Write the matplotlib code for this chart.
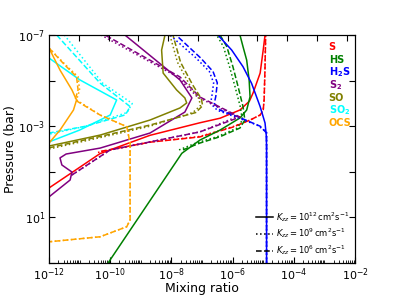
import numpy as np
import matplotlib
matplotlib.use("Agg")
import matplotlib.pyplot as plt
from matplotlib.lines import Line2D
from matplotlib.ticker import NullFormatter, NullLocator

# ---- data: log10(mixing ratio) and log10(pressure / bar) ----
# S (red)
S_12_lx = [-12.1, -10.33, -8.7, -7.07, -6.41, -5.76, -5.45, -5.33, -5.1, -5.0, -4.94]
S_12_lp = [-0.2, -1.8, -2.6, -3.15, -3.35, -3.71, -4.1, -4.46, -5.33, -6.34, -7.0]
S_9_lx = [-10.4, -8.7, -7.07, -5.99, -5.43, -5.1, -5.0, -4.97, -4.94, -4.92]
S_9_lp = [-1.85, -2.3, -2.55, -2.98, -3.27, -3.49, -3.71, -4.15, -5.6, -7.0]
S_6_lx = [-10.3, -8.7, -7.07, -5.99, -5.43, -5.1, -5.0, -4.97, -4.94, -4.92]
S_6_lp = [-1.9, -2.3, -2.53, -2.96, -3.27, -3.49, -3.71, -4.15, -5.6, -7.0]
# HS (green)
HS_12_lx = [-10.07, -7.66, -7.07, -6.41, -5.76, -5.54, -5.43, -5.46, -5.54, -5.66, -5.76]
HS_12_lp = [3.0, -1.81, -2.39, -2.83, -3.36, -3.71, -4.29, -5.03, -5.9, -6.49, -7.0]
HS_9_lx = [-7.75, -7.2, -6.5, -5.85, -5.68, -5.75, -5.92, -6.1, -6.3, -6.52]
HS_9_lp = [-1.96, -2.26, -2.54, -2.92, -3.27, -3.86, -4.73, -5.61, -6.49, -7.0]
HS_6_lx = [-7.62, -7.07, -6.41, -5.76, -5.6, -5.66, -5.82, -5.99, -6.19, -6.41]
HS_6_lp = [-1.96, -2.26, -2.54, -2.92, -3.27, -3.86, -4.73, -5.61, -6.49, -7.0]
# H2S (blue)
H2S_12_lx = [-4.89, -4.89, -4.9, -4.94, -5.10, -5.38, -5.66, -6.03, -6.48]
H2S_12_lp = [3.0, -2.1, -2.6, -3.14, -3.86, -4.88, -5.61, -6.34, -7.0]
H2S_9_lx = [-4.89, -4.89, -5.2, -5.9, -6.5, -6.72, -6.68, -6.62, -6.76, -7.2, -8.05]
H2S_9_lp = [3.0, -2.75, -3.05, -3.4, -3.7, -4.0, -4.3, -4.9, -5.4, -6.0, -7.0]
H2S_6_lx = [-4.89, -4.89, -5.1, -5.8, -6.4, -6.6, -6.55, -6.5, -6.64, -7.05, -7.85]
H2S_6_lp = [3.0, -2.7, -3.0, -3.4, -3.7, -4.0, -4.3, -4.9, -5.4, -6.0, -7.0]
# S2 (purple)
S2_12_lx = [-12.0, -11.31, -11.25, -11.58, -11.64, -11.44, -10.33, -8.7, -7.56, -7.33, -7.72, -9.52]
S2_12_lp = [0.1, -0.64, -0.99, -1.3, -1.61, -1.78, -2.04, -2.7, -3.62, -4.24, -5.03, -7.0]
S2_9_lx = [-11.25, -10.0, -7.07, -5.85, -7.15, -7.8, -10.3]
S2_9_lp = [-0.86, -1.96, -2.75, -3.42, -4.28, -5.16, -7.0]
S2_6_lx = [-11.25, -10.0, -7.07, -5.76, -7.07, -7.72, -10.17]
S2_6_lp = [-0.86, -1.96, -2.75, -3.4, -4.28, -5.16, -7.0]
# SO (olive)
SO_12_lx = [-12.0, -10.33, -8.7, -7.72, -7.5, -7.56, -7.83, -8.27, -8.32, -8.21]
SO_12_lp = [-2.13, -2.61, -3.27, -3.8, -4.02, -4.24, -4.59, -5.33, -6.34, -7.0]
SO_9_lx = [-12.0, -10.33, -8.7, -7.3, -7.05, -7.1, -7.4, -7.8, -8.05]
SO_9_lp = [-2.0, -2.5, -3.0, -3.6, -3.9, -4.2, -4.8, -5.8, -7.0]
SO_6_lx = [-12.0, -10.33, -8.7, -7.2, -6.98, -7.02, -7.3, -7.7, -7.95]
SO_6_lp = [-2.05, -2.55, -3.05, -3.6, -3.9, -4.2, -4.8, -5.8, -7.0]
# SO2 (cyan)
SO2_12_lx = [-12.0, -10.99, -9.79, -10.0, -11.0, -12.0]
SO2_12_lp = [-5.99, -5.03, -4.15, -3.49, -2.83, -2.31]
SO2_9_lx = [-11.5, -10.25, -9.28, -9.45, -10.8, -12.0]
SO2_9_lp = [-7.0, -4.89, -4.0, -3.6, -3.0, -2.65]
SO2_6_lx = [-11.75, -10.33, -9.35, -9.5, -10.8, -12.0]
SO2_6_lp = [-7.0, -4.89, -3.86, -3.5, -3.0, -2.7]
# OCS (orange)
OCS_12_lx = [-12.0, -11.64, -11.25, -11.1, -11.2, -11.64, -12.0]
OCS_12_lp = [-6.43, -5.46, -4.59, -4.15, -3.71, -2.83, -2.26]
OCS_9_lx = [-12.0, -11.45, -11.05, -11.0, -11.1, -10.33, -9.46, -9.35, -9.35, -9.46, -10.33, -12.0]
OCS_9_lp = [-6.43, -5.68, -5.17, -4.59, -4.15, -3.49, -2.98, -2.26, 1.11, 1.41, 1.85, 2.07]
OCS_6_lx = [-12.0, -11.48, -11.1, -11.05, -11.15, -10.33, -9.46, -9.35, -9.35, -9.46, -10.33, -12.0]
OCS_6_lp = [-6.43, -5.68, -5.17, -4.59, -4.15, -3.49, -2.98, -2.26, 1.11, 1.41, 1.85, 2.07]

species = ["S", "HS", "H$_\\mathbf{2}$S", "S$_\\mathbf{2}$", "SO", "SO$_\\mathbf{2}$", "OCS"]
colors = ["red", "green", "blue", "purple", "olive", "cyan", "orange"]
kzz_labels = [r"$K_{zz} = 10^{12}\,\mathrm{cm^2s^{-1}}$",
              r"$K_{zz} = 10^{9}\,\mathrm{cm^2s^{-1}}$",
              r"$K_{zz} = 10^{6}\,\mathrm{cm^2s^{-1}}$"]
styles = ["-", ":", "--"]

curves = [
    [(S_12_lx, S_12_lp), (S_9_lx, S_9_lp), (S_6_lx, S_6_lp)],
    [(HS_12_lx, HS_12_lp), (HS_9_lx, HS_9_lp), (HS_6_lx, HS_6_lp)],
    [(H2S_12_lx, H2S_12_lp), (H2S_9_lx, H2S_9_lp), (H2S_6_lx, H2S_6_lp)],
    [(S2_12_lx, S2_12_lp), (S2_9_lx, S2_9_lp), (S2_6_lx, S2_6_lp)],
    [(SO_12_lx, SO_12_lp), (SO_9_lx, SO_9_lp), (SO_6_lx, SO_6_lp)],
    [(SO2_12_lx, SO2_12_lp), (SO2_9_lx, SO2_9_lp), (SO2_6_lx, SO2_6_lp)],
    [(OCS_12_lx, OCS_12_lp), (OCS_9_lx, OCS_9_lp), (OCS_6_lx, OCS_6_lp)],
]

plt.rcParams['font.family'] = ['DejaVu Sans']
plt.rcParams['mathtext.fontset'] = 'dejavusans'
fig = plt.figure(figsize=(3.94, 2.96), dpi=100)
ax = fig.add_axes([49/394, 1-263/296, (355-49)/394, (263-35)/296])

for sp_curves, col in zip(curves, colors):
    for (lx, lp), ls in zip(sp_curves, styles):
        ax.plot(10**np.array(lx), 10**np.array(lp), color=col, ls=ls, lw=1.1)

ax.set_xscale('log')
ax.set_yscale('log')
ax.set_xlim(1e-12, 1e-2)
ax.set_ylim(1e3, 1e-7)

xmaj_exp = list(range(-12, -1, 2))
ax.set_xticks([10.0**k for k in xmaj_exp], [r"$10^{%d}$" % k for k in xmaj_exp])
xmin = [m * 10.0**k for k in range(-12, -2) for m in range(1, 10) if not (m == 1 and k % 2 == 0)]
ax.set_xticks(xmin, minor=True)
ax.xaxis.set_minor_formatter(NullFormatter())
ymaj_exp = list(range(-7, 4, 2))
ax.set_yticks([10.0**k for k in ymaj_exp],
              [r"$10^{%d}$" % k if k in (-7, -3, 1) else "" for k in ymaj_exp])
ax.yaxis.set_minor_locator(NullLocator())
ax.tick_params(which='both', direction='in', labelsize=8, right=True, top=False)
ax.tick_params(which='major', length=4, pad=2.5)
ax.tick_params(which='minor', length=2)

axt = ax.twiny()
axt.set_xlim(0, 10.28)
axt.set_xticks(range(1, 11))
axt.tick_params(direction='in', length=4, labeltop=False, top=True)

ax.set_xlabel("Mixing ratio", fontsize=9)
ax.xaxis.set_label_coords(0.5, -0.082)
ax.set_ylabel("Pressure (bar)", fontsize=9)
ax.yaxis.set_label_coords(-0.105, 0.5)

# colored species labels
for i, (name, col) in enumerate(zip(species, colors)):
    ax.text(0.914, 0.947 - i * 0.0557, name, color=col, fontsize=7, fontweight='bold',
            transform=ax.transAxes, ha='left', va='center')

handles = [Line2D([0], [0], color='black', ls=s, lw=1.1) for s in styles]
ax.legend(handles, kzz_labels, loc='lower right', fontsize=6, frameon=False,
          handlelength=2.0, handletextpad=0.4, labelspacing=0.35,
          borderaxespad=0.3)

fig.savefig("out.png", dpi=100)
